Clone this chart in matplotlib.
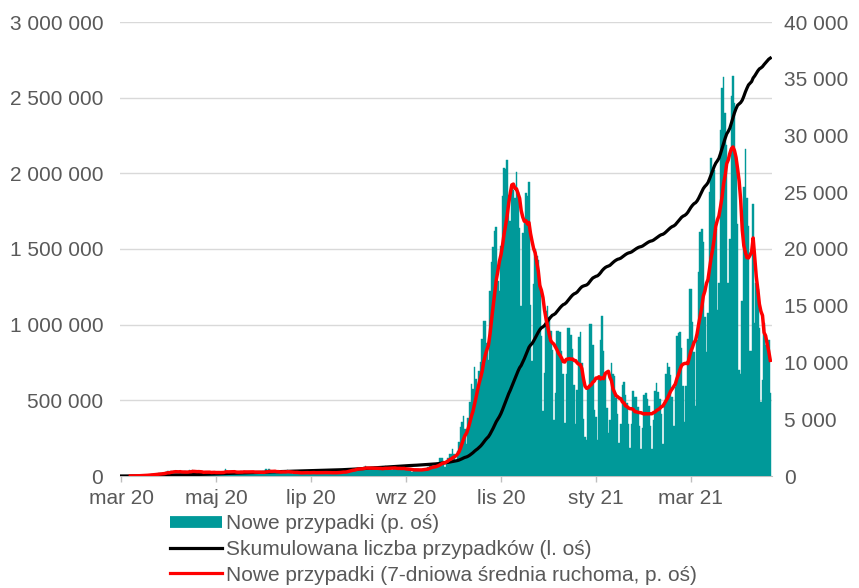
import numpy as np
import pandas as pd
import matplotlib
matplotlib.use("Agg")
import matplotlib.pyplot as plt
from matplotlib.lines import Line2D
from matplotlib.ticker import FuncFormatter

plt.rcParams['font.family'] = ['Liberation Sans', 'DejaVu Sans']

# daily new cases (first day: 4 March 2020)
mar20 = [1, 0, 4, 1, 5, 6, 5, 9, 20, 17, 36, 21, 52, 61, 49, 68, 70, 111, 98, 115,
         152, 150, 170, 168, 249, 224, 193, 256]
apr20 = [243, 392, 437, 244, 475, 311, 435, 357, 370, 380, 336, 318, 268, 401, 380,
         336, 545, 363, 545, 263, 306, 313, 381, 460, 285, 263, 344, 316, 325, 380]
may20 = [265, 340, 302, 227, 342, 307, 339, 306, 362, 595, 341, 297, 349, 356, 327,
         379, 379, 278, 314, 417, 315, 443, 345, 394, 299, 395, 317, 360, 311, 347, 353]
jun20 = [292, 304, 333, 293, 576, 409, 575, 375, 282, 396, 314, 311, 440, 407, 297,
         375, 380, 280, 506, 370, 301, 193, 270, 282, 319, 380, 261, 246, 232, 371]
jul20 = [262, 305, 302, 332, 262, 270, 288, 282, 361, 315, 358, 299, 253, 237, 283,
         320, 270, 340, 334, 214, 267, 358, 384, 418, 443, 319, 337, 512, 615, 657, 658]
aug20 = [548, 584, 680, 599, 640, 726, 809, 843, 618, 620, 587, 680, 639, 811, 832,
         548, 595, 544, 528, 809, 903, 794, 581, 641, 550, 594, 887, 719, 709, 620, 559]
sep20 = [550, 616, 608, 656, 599, 550, 377, 421, 601, 597, 658, 555, 534, 498, 600,
         640, 757, 1002, 1002, 794, 752, 746, 975, 1136, 1587, 1584, 1306, 757, 1326, 1552]
oct20 = [1967, 1937, 2367, 1934, 1306, 2236, 3003, 4280, 4739, 5300, 4178, 2855, 5068,
         6526, 8099, 7705, 9622, 8536, 7482, 9291, 10040, 12107, 13632, 13628, 11742,
         10241, 16300, 18820, 20156, 21629, 21897]
nov20 = [17171, 16300, 20300, 24692, 27143, 27086, 27875, 24785, 22500, 25454, 25200,
         24500, 26800, 25000, 21854, 15002, 21400, 22600, 24900, 24700, 25900, 15104,
         10139, 16900, 20000, 19400, 19000, 16800, 12300, 5733]
dec20 = [9105, 14500, 15000, 14000, 12756, 11092, 4896, 7310, 12800, 12800, 12700,
         11055, 8977, 4633, 8977, 13000, 13000, 12400, 11174, 8034, 4570, 7546, 12203,
         12718, 10000, 5000, 3400, 3211, 7864, 13397, 13424]
jan21 = [11500, 5800, 5200, 3200, 8700, 12000, 14100, 11000, 9000, 6000, 3800, 4900,
         10000, 9000, 8800, 6900, 5500, 2900, 4600, 8000, 8300, 7100, 6400, 4600, 2500,
         4600, 7500, 7000, 7000, 6100, 4400]
feb21 = [2400, 4200, 7100, 7300, 6800, 6200, 4400, 2400, 4900, 7500, 8200, 7400, 6800,
         5500, 2800, 6500, 9000, 10000, 9600, 8900, 7000, 4400, 7800, 12300, 12600, 12700,
         11300, 7900]
mar21 = [4800, 7900, 12100, 16500, 16500, 13600, 10900, 6200, 12000, 18000, 21500,
         21800, 20600, 14000, 10900, 14400, 25000, 28000, 27000, 27000, 21800, 14600,
         17000, 30500, 34151, 35143, 32000, 29200, 16965, 20880, 33500]
apr21 = [35251, 32900, 27800, 22200, 9300, 9000, 15400, 25500, 28800, 24500, 22000,
         11000, 11000, 24000, 13500, 17000, 16500, 13000, 6500, 8500, 13500, 11500,
         12000, 12000, 7300]

tick_labels = ["mar 20", "maj 20", "lip 20", "wrz 20", "lis 20", "sty 21", "mar 21"]
tick_step = 61
labels = ["Nowe przypadki (p. oś)",
          "Skumulowana liczba przypadków (l. oś)",
          "Nowe przypadki (7-dniowa średnia ruchoma, p. oś)"]

daily = np.array(mar20 + apr20 + may20 + jun20 + jul20 + aug20 + sep20 + oct20 + nov20
                 + dec20 + jan21 + feb21 + mar21 + apr21, dtype=float)
days = np.arange(len(daily))
cumulative = np.cumsum(daily)
avg7 = pd.Series(daily).rolling(7).mean().to_numpy()

TEAL = "#009999"
GREY = "#595959"
GRID = "#d9d9d9"
FS = 15


def spaced(v, pos):
    return f"{v:,.0f}".replace(",", " ")


fig = plt.figure(figsize=(8.59, 5.88), dpi=100)
ax = fig.add_axes([120 / 859, 112 / 588, 652 / 859, 454 / 588])

# left scale + grid
ax.set_ylim(0, 3_000_000)
ax.set_yticks(np.arange(0, 3_000_001, 500_000))
ax.yaxis.set_major_formatter(FuncFormatter(spaced))
ax.yaxis.grid(True, color=GRID, lw=1.0)
ax.set_axisbelow(True)
ax.tick_params(axis='y', length=0, pad=12, labelsize=FS, labelcolor=GREY)
ax.set_xlim(-0.65, len(daily) + 0.1)
ax.set_xticks(days[::tick_step][:len(tick_labels)])
ax.set_xticklabels(tick_labels)
ax.tick_params(axis='x', length=4, width=1, color="#bfbfbf", pad=5,
               labelsize=FS, labelcolor=GREY)
for s in ['top', 'left', 'right']:
    ax.spines[s].set_visible(False)
ax.spines['bottom'].set_color("#bfbfbf")

# bars, right scale
axb = ax.twinx()
axb.bar(days, daily, width=1.0, color=TEAL, edgecolor=TEAL, linewidth=0.3)
axb.set_ylim(0, 40000)
axb.set_yticks(np.arange(0, 40001, 5000))
axb.yaxis.set_major_formatter(FuncFormatter(spaced))
axb.tick_params(axis='y', length=0, pad=9, labelsize=FS, labelcolor=GREY)

# cumulative, left scale
axc = ax.twinx()
axc.plot(days, cumulative, color="black", lw=2.3)
axc.set_ylim(0, 3_000_000)
axc.set_yticks([])

# 7-day average, right scale
axr = ax.twinx()
axr.plot(days, avg7, color="#ff0000", lw=2.5)
axr.set_ylim(0, 40000)
axr.set_yticks([])

for a in (axb, axc, axr):
    for s in a.spines.values():
        s.set_visible(False)

handles = [Line2D([], [], color=TEAL, lw=8.5, solid_capstyle='butt'),
           Line2D([], [], color="black", lw=2.3),
           Line2D([], [], color="#ff0000", lw=2.3)]
fig.legend(handles, labels, loc='upper left', bbox_to_anchor=(170 / 859, 1 - 514 / 588),
           frameon=False, handlelength=2.5, handletextpad=0.2, labelspacing=0.33,
           borderpad=0, borderaxespad=0, fontsize=FS, labelcolor=GREY)

fig.savefig("out.png", dpi=100)
